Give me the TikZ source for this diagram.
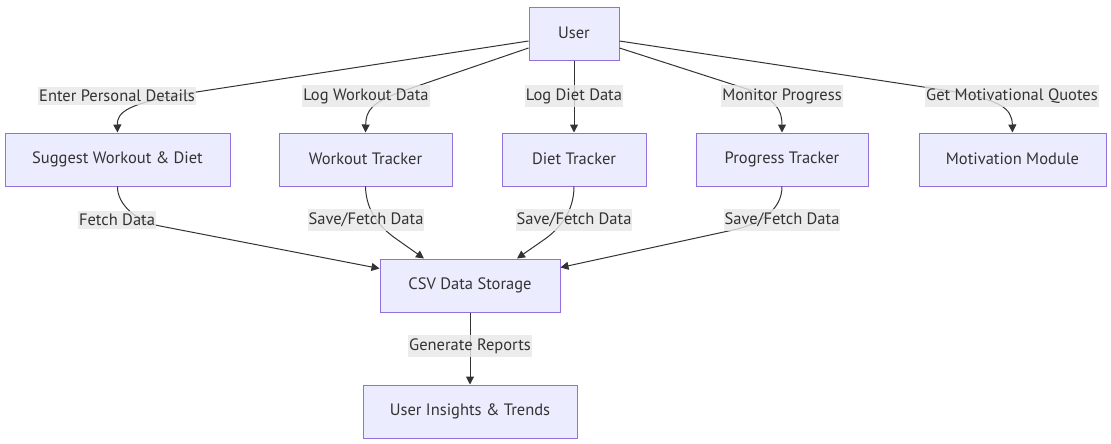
\documentclass[tikz,border=0pt]{standalone}
\usepackage{fontspec}
\setmainfont{PT Sans}
\usetikzlibrary{arrows.meta,calc}
\definecolor{nodefill}{HTML}{ECECFF}
\definecolor{nodeborder}{HTML}{9370DB}
\definecolor{edgecol}{HTML}{333333}
\definecolor{labelbg}{HTML}{E8E8E8}
\definecolor{txt}{HTML}{333333}
\tikzset{
  box/.style={draw=nodeborder, fill=nodefill, line width=1pt, minimum height=53pt, inner sep=0pt, text=txt, font=\fontsize{16.5}{19}\selectfont},
  elabel/.style={fill=labelbg, fill opacity=0.8, text opacity=1, text=txt, inner xsep=1pt, inner ysep=3.5pt, font=\fontsize{16.5}{19}\selectfont},
  edge/.style={draw=edgecol, line width=1pt, -{Triangle[length=8pt,width=8pt]}}
}
\begin{document}
\begin{tikzpicture}[x=1pt,y=-1pt]
\useasboundingbox[fill=white] (0,0) rectangle (1111,444);
% nodes
\node[box, minimum width=90pt] (user) at (574,34) {\raisebox{2pt}{User}};
\node[box, minimum width=225pt] (sug) at (117.5,159.5) {\raisebox{2pt}{Suggest Workout \& Diet}};
\node[box, minimum width=173pt] (wt) at (365.5,159.5) {\raisebox{2pt}{Workout Tracker}};
\node[box, minimum width=144pt] (dt) at (574,159.5) {\raisebox{2pt}{Diet Tracker}};
\node[box, minimum width=172pt] (pt) at (782,159.5) {\raisebox{2pt}{Progress Tracker}};
\node[box, minimum width=187pt] (mm) at (1012.5,159.5) {\raisebox{2pt}{Motivation Module}};
\node[box, minimum width=180pt] (csv) at (470,285.5) {\raisebox{2pt}{CSV Data Storage}};
\node[box, minimum width=214pt] (ins) at (470,411.5) {\raisebox{2pt}{User Insights \& Trends}};
% edges
\draw[edge] ([yshift=-7pt]user.west) -- (190,93) .. controls (128,103) and (117,112) .. (sug.north);
\draw[edge] ([yshift=-14pt]user.west) -- (400,92) .. controls (372,103) and (366,110) .. (wt.north);
\draw[edge] (user.south) -- (dt.north);
\draw[edge] ([yshift=-14pt]user.east) -- (750,90) .. controls (776,100) and (782,110) .. (pt.north);
\draw[edge] ([yshift=-7pt]user.east) -- (950,91) .. controls (1000,100) and (1012,108) .. (mm.north);
\draw[edge] (sug.south) .. controls (117,205) and (138,222) .. (160,226) -- ([yshift=17pt]csv.west);
\draw[edge] (wt.south) .. controls (366,212) and (381,228) .. (395,238) -- ([xshift=-46pt]csv.north);
\draw[edge] (dt.south) .. controls (574,212) and (559,229) .. (545,239) -- ([xshift=47pt]csv.north);
\draw[edge] (pt.south) .. controls (782,210) and (760,224) .. (733,230) -- ([yshift=18pt]csv.east);
\draw[edge] (csv.south) -- (ins.north);
% labels
\node[elabel] (l1) at (117,96) {Enter Personal Details};
\node[elabel] (l2) at (366,96) {Log Workout Data};
\node[elabel] (l3) at (574,96) {Log Diet Data};
\node[elabel] (l4) at (782,96) {Monitor Progress};
\node[elabel] (l5) at (1012,96) {Get Motivational Quotes};
\node[elabel] (l6) at (117,220) {Fetch Data};
\node[elabel] (l7) at (366,220) {Save/Fetch Data};
\node[elabel] (l8) at (574,220) {Save/Fetch Data};
\node[elabel] (l9) at (782,220) {Save/Fetch Data};
\node[elabel] (l10) at (470,346) {Generate Reports};
\end{tikzpicture}
\end{document}
